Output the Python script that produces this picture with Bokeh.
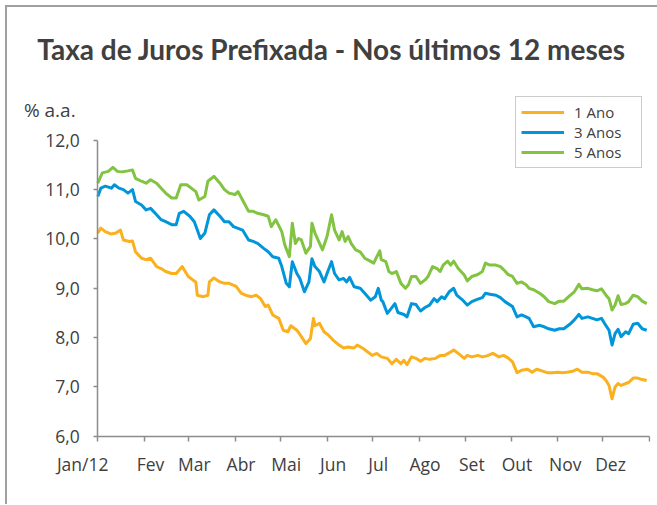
from bokeh.plotting import figure
from bokeh.models import FixedTicker, Legend, LegendItem, Label, Range1d, LinearAxis
from bokeh.embed import file_html
from bokeh.resources import INLINE

# ---- data (x = day of year 2012, y = % a.a.) ----
days_1a = [0, 2, 5, 9, 12, 15, 17, 21, 23, 25, 29, 32, 35, 39, 42, 45, 49, 52, 56, 60, 63, 65, 66, 70, 73, 74, 77, 81, 84, 87, 91,
           92, 95, 98, 102, 105, 108, 111, 113, 116, 120, 123, 126, 128, 132, 135, 138, 141, 143, 144, 147, 150, 153, 156, 160, 163, 166, 170, 172, 176, 179,
           182, 185, 188, 192, 195, 198, 201, 203, 205, 208, 211, 214, 217, 220, 224, 227, 230, 234, 236, 239, 243, 245, 248, 252, 255, 258, 262, 266, 269,
           272, 275, 278, 281, 285, 288, 291, 295, 298, 301, 305, 308, 311, 315, 318, 321, 325, 328, 331, 335, 337, 339, 341, 343, 345, 347, 350, 352, 355, 358, 361, 364]
ano_1 = [10.12, 10.22, 10.15, 10.10, 10.12, 10.18, 9.98, 9.95, 9.96, 9.74, 9.61, 9.58, 9.61, 9.44, 9.40, 9.34, 9.30, 9.30, 9.44, 9.24, 9.17, 9.13, 8.86, 8.83, 8.86, 9.13, 9.21, 9.13, 9.10, 9.10, 9.05,
         9.03, 8.90, 8.86, 8.83, 8.86, 8.79, 8.63, 8.66, 8.46, 8.39, 8.15, 8.12, 8.24, 8.15, 8.02, 7.88, 7.98, 8.39, 8.24, 8.29, 8.12, 8.05, 7.95, 7.85, 7.79, 7.81, 7.79, 7.85, 7.78, 7.71,
         7.64, 7.68, 7.61, 7.58, 7.47, 7.56, 7.47, 7.54, 7.45, 7.61, 7.58, 7.52, 7.58, 7.56, 7.58, 7.64, 7.64, 7.71, 7.75, 7.68, 7.58, 7.64, 7.61, 7.64, 7.61, 7.63, 7.68, 7.61, 7.64,
         7.59, 7.51, 7.29, 7.34, 7.36, 7.30, 7.36, 7.32, 7.29, 7.29, 7.30, 7.29, 7.30, 7.32, 7.36, 7.30, 7.30, 7.27, 7.27, 7.20, 7.13, 7.03, 6.76, 7.00, 7.07, 7.03, 7.07, 7.09, 7.18, 7.18, 7.15, 7.13]

days_3a = [0, 2, 5, 9, 11, 14, 17, 20, 23, 25, 29, 32, 35, 39, 42, 45, 49, 52, 54, 57, 61, 64, 66, 68, 71, 74, 77, 81, 84, 87,
           90, 96, 100, 103, 106, 110, 113, 116, 120, 122, 125, 127, 129, 132, 134, 137, 140, 142, 144, 147, 150, 152, 155, 157, 160, 163, 165, 167, 170, 174, 177,
           181, 184, 186, 188, 189, 192, 195, 197, 199, 203, 205, 208, 211, 214, 217, 220, 223, 225, 228, 230, 233, 236, 238, 242, 245, 248, 252, 255, 257, 260, 264, 267, 270,
           275, 278, 281, 284, 286, 289, 293, 296, 299, 303, 306, 309, 313, 316, 319, 321, 325, 328, 331, 334, 336, 339, 341, 343, 345, 347, 350, 352, 355, 358, 361, 364]
anos_3 = [10.86, 11.03, 11.07, 11.03, 11.10, 11.03, 11.00, 10.93, 11.00, 10.76, 10.69, 10.59, 10.62, 10.49, 10.39, 10.35, 10.29, 10.29, 10.52, 10.56, 10.46, 10.35, 10.18, 10.01, 10.12, 10.49, 10.59, 10.46, 10.35, 10.35,
          10.25, 10.18, 9.98, 9.95, 9.91, 9.81, 9.74, 9.64, 9.61, 9.44, 9.10, 9.03, 9.54, 9.30, 9.20, 8.93, 9.13, 9.60, 9.44, 9.34, 9.13, 9.30, 9.54, 9.30, 9.17, 9.20, 9.13, 9.22, 9.03, 9.00, 8.90,
          8.76, 8.83, 9.00, 8.76, 8.73, 8.49, 8.61, 8.69, 8.51, 8.47, 8.42, 8.69, 8.67, 8.54, 8.61, 8.66, 8.79, 8.73, 8.83, 8.79, 8.93, 9.00, 8.86, 8.76, 8.66, 8.73, 8.78, 8.81, 8.90, 8.88, 8.86, 8.81, 8.73,
          8.63, 8.42, 8.46, 8.42, 8.39, 8.22, 8.25, 8.22, 8.18, 8.15, 8.18, 8.18, 8.27, 8.36, 8.47, 8.39, 8.42, 8.39, 8.36, 8.39, 8.29, 8.15, 7.85, 8.08, 8.17, 8.02, 8.12, 8.08, 8.27, 8.29, 8.18, 8.15]

days_5a = [0, 3, 7, 10, 13, 16, 20, 23, 25, 29, 32, 35, 39, 42, 45, 49, 52, 55, 59, 62, 65, 67, 71, 73, 77, 81, 84, 87,
           91, 93, 96, 100, 103, 106, 110, 113, 115, 118, 122, 124, 127, 129, 131, 133, 135, 138, 141, 142, 144, 146, 149, 152, 155, 157, 160, 162, 164, 166, 168, 171, 174, 177,
           180, 183, 185, 187, 188, 191, 193, 195, 198, 201, 204, 206, 208, 211, 214, 217, 219, 222, 225, 227, 229, 232, 234, 236, 239, 243, 245, 248, 252, 255, 257, 260, 264, 267, 270,
           272, 275, 278, 281, 284, 286, 289, 293, 296, 299, 303, 306, 309, 313, 316, 319, 321, 325, 328, 331, 334, 337, 339, 341, 343, 345, 347, 350, 352, 355, 358, 361, 364]
anos_5 = [11.13, 11.34, 11.37, 11.45, 11.37, 11.36, 11.38, 11.40, 11.23, 11.17, 11.13, 11.20, 11.13, 11.03, 10.93, 10.83, 10.83, 11.10, 11.10, 11.03, 10.96, 10.79, 10.86, 11.17, 11.27, 11.13, 11.00, 10.93,
          10.90, 10.96, 10.79, 10.56, 10.56, 10.52, 10.49, 10.46, 10.25, 10.39, 10.15, 9.88, 9.64, 10.32, 9.91, 10.01, 9.98, 9.71, 9.85, 10.32, 10.12, 9.98, 9.78, 10.05, 10.49, 10.18, 9.98, 10.15, 9.95, 10.05, 9.91, 9.78, 9.74, 9.61,
          9.56, 9.51, 9.64, 9.76, 9.58, 9.54, 9.34, 9.30, 9.34, 9.10, 9.00, 9.07, 9.24, 9.24, 9.10, 9.17, 9.24, 9.44, 9.40, 9.34, 9.47, 9.55, 9.47, 9.55, 9.40, 9.27, 9.15, 9.24, 9.28, 9.34, 9.51, 9.47, 9.47, 9.44, 9.35,
          9.28, 9.24, 9.10, 9.13, 9.07, 9.00, 8.97, 8.90, 8.83, 8.73, 8.69, 8.74, 8.74, 8.85, 8.93, 9.08, 8.99, 9.00, 8.97, 8.95, 8.99, 8.86, 8.79, 8.56, 8.66, 8.85, 8.67, 8.69, 8.73, 8.86, 8.83, 8.74, 8.69]

series_names = ["1 Ano", "3 Anos", "5 Anos"]
series_colors = ["#FBB01D", "#0096D9", "#82C341"]

month_starts = [0, 31, 60, 91, 121, 152, 182, 213, 244, 274, 305, 335, 366]
month_label_pos = [-10, 35, 64, 95, 125, 156, 186, 217, 248, 278, 310, 340]
month_labels = ["Jan/12", "Fev", "Mar", "Abr", "Mai", "Jun", "Jul", "Ago", "Set", "Out", "Nov", "Dez"]

y_ticks = [6, 7, 8, 9, 10, 11, 12]
y_tick_labels = ["6,0", "7,0", "8,0", "9,0", "10,0", "11,0", "12,0"]
unit_text = "% a.a."

TXT = "#404040"
AX = "#8c8c8c"
TICK_FONT = "17.5px"

p = figure(width=652, height=499, x_range=Range1d(-56.56, 366.5), y_range=Range1d(5.692, 13.05),
           output_backend="svg", toolbar_location=None,
           min_border_left=5, min_border_right=9, min_border_top=80, min_border_bottom=55,
           background_fill_color="white", border_fill_color="white")
p.styles = {"margin-left": "5px", "margin-top": "5px",
            "border-top": "2px solid #a0a0a0", "border-left": "2px solid #a0a0a0"}
p.outline_line_color = None
p.grid.visible = False

p.title.text = "Taxa de Juros Prefixada - Nos últimos 12 meses"
p.title.align = "center"
p.title.text_font = "Lato"
p.title.text_font_size = "28px"
p.title.text_font_style = "bold"
p.title.text_color = TXT
if "standoff" in p.title.properties():
    p.title.standoff = 45

renderers = []
for xs, ys, c in [(days_1a, ano_1, series_colors[0]), (days_3a, anos_3, series_colors[1]), (days_5a, anos_5, series_colors[2])]:
    r = p.line(xs, ys, line_color=c, line_width=3, line_join="round")
    renderers.append(r)

# x axis: month labels
xa = p.xaxis[0]
xa.ticker = FixedTicker(ticks=month_label_pos, minor_ticks=[])
xa.major_label_overrides = {pos: lab for pos, lab in zip(month_label_pos, month_labels)}
xa.major_tick_line_color = None
xa.major_tick_in = 0
xa.major_tick_out = 0
xa.minor_tick_line_color = None
xa.axis_line_color = None
xa.major_label_standoff = 0
xa.major_label_text_font = "Open Sans"
xa.major_label_text_font_size = TICK_FONT
xa.major_label_text_color = TXT

# x axis line with month boundary ticks
xl = LinearAxis(fixed_location=6, bounds=(0, 366),
                ticker=FixedTicker(ticks=month_starts, minor_ticks=[]),
                major_label_overrides={t: "" for t in month_starts},
                major_label_text_font_size="1px",
                axis_line_color=AX, axis_line_width=1.5,
                major_tick_line_color=AX, major_tick_line_width=1.5,
                major_tick_in=0, major_tick_out=5, minor_tick_line_color=None)
p.add_layout(xl, "below")

ya = p.yaxis[0]
ya.fixed_location = 0
ya.bounds = (6, 12)
ya.ticker = FixedTicker(ticks=y_ticks, minor_ticks=[])
ya.major_label_overrides = {t: lab for t, lab in zip(y_ticks, y_tick_labels)}
ya.major_tick_line_color = AX
ya.major_tick_line_width = 1.5
ya.major_tick_in = 0
ya.major_tick_out = 4
ya.minor_tick_line_color = None
ya.axis_line_color = AX
ya.axis_line_width = 1.5
ya.major_label_standoff = 14
ya.major_label_text_font = "Open Sans"
ya.major_label_text_font_size = TICK_FONT
ya.major_label_text_color = TXT

unit = Label(x=-49, y=12.62, text=unit_text,
             text_font="Open Sans", text_font_size="19px", text_color=TXT,
             text_baseline="middle", text_align="left")
p.add_layout(unit)

legend = Legend(items=[LegendItem(label=n, renderers=[r]) for n, r in zip(series_names, renderers)],
                location="top_right", border_line_color="#999999", border_line_width=1,
                label_text_font="Open Sans", label_text_font_size="15px", label_text_color=TXT,
                glyph_width=43, glyph_height=20, label_height=20, label_width=62, spacing=0, padding=5,
                label_standoff=10, margin=8, background_fill_color="white", background_fill_alpha=1)
p.add_layout(legend)

open("out.html", "w").write(file_html(p, INLINE))
